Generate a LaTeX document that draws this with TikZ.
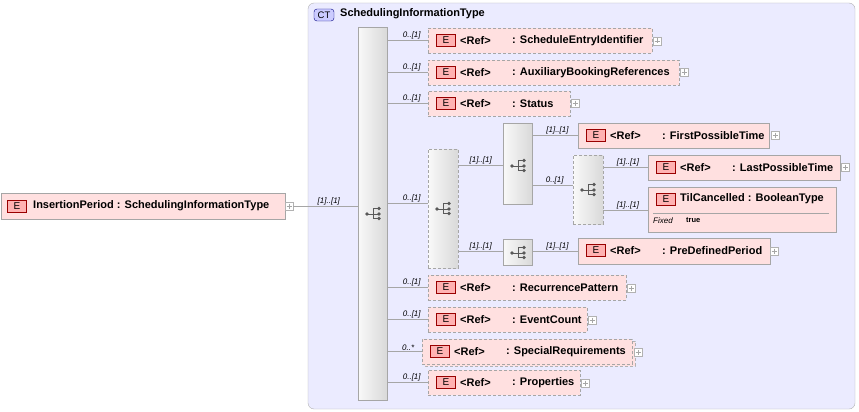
\documentclass[tikz,border=0pt]{standalone}
\usepackage{fontspec}
\setmainfont{Liberation Sans}
\usetikzlibrary{calc}
\begin{document}
\begin{tikzpicture}[x=1pt,y=-1pt,
  font=\fontsize{11}{12}\selectfont\bfseries,
  elbox/.style={draw=gray!70,fill=red!12,anchor=north west,inner sep=0pt},
  opt/.style={dashed,dash pattern=on 3pt off 2pt},
  ebadge/.style={draw=red!60!black,fill=red!30,minimum width=19pt,minimum height=12pt,inner sep=0pt,font=\fontsize{10}{10}\selectfont},
  comp/.style={draw=gray!70,left color=gray!5,right color=gray!30,anchor=north west,inner sep=0pt},
  conn/.style={draw=gray!70,line width=0.6pt},
  card/.style={font=\fontsize{8}{9}\selectfont\itshape,anchor=south,inner sep=1pt},
  plusbox/.style={draw=gray!60,fill=white,minimum size=8pt,inner sep=0pt}]
\useasboundingbox (0,0) rectangle (859,412);
\newcommand\plusat[2]{\node[plusbox] (#1) at (#2) {}; \draw[gray!70,line width=0.4pt] ($(#1)+(-2.5,0)$)--($(#1)+(2.5,0)$) ($(#1)+(0,-2.5)$)--($(#1)+(0,2.5)$);}
\newcommand\seqicon[2]{%
  \fill[black!65] ($(#2)+(-7,1)$) circle (1.8pt);
  \draw[black!65,line width=0.8pt] ($(#2)+(-7,1)$)--($(#2)+(-1,1)$) ($(#2)+(-1,-4.5)$)--($(#2)+(-1,5.5)$)
     ($(#2)+(-1,-4.5)$)--($(#2)+(4,-4.5)$) ($(#2)+(-1,1)$)--($(#2)+(4,1)$) ($(#2)+(-1,5.5)$)--($(#2)+(4,5.5)$);
  \foreach \yy in {-4.5,1,5.5}{\fill[black!65] ($(#2)+(5,\yy)$) circle (1.8pt);}
  \coordinate (#1) at (#2);}
% container
\draw[gray!60,fill=blue!8,rounded corners=6pt] (308,3) rectangle (855,409);
\node[draw=blue!50!black,fill=blue!20,rounded corners=3pt,inner sep=1pt,minimum width=20pt,minimum height=12pt,font=\fontsize{9.5}{10}\selectfont] (ct) at (324,15) {CT};
\node[anchor=west,inner sep=0pt] (ctname) at (340,14) {SchedulingInformationType};
% root
\node[elbox,minimum width=284pt,minimum height=26pt] (root) at (1,193) {};
\node[ebadge] (rootE) at (17,206) {E};
\node[anchor=west,inner sep=0pt] (rootT) at (33,206) {InsertionPeriod : SchedulingInformationType};
\plusat{rootP}{289,206}
% main sequence
\node[comp,minimum width=29pt,minimum height=373pt] (mseq) at (358,27) {};
\seqicon{mseqI}{374,213}
\draw[conn] (rootP.east) -- (mseq.west |- rootP) node[card,pos=0.55] {[1]..[1]};
% element macro
\newcommand\elem[8]{%
  \node[elbox,#6,minimum width=#4pt,minimum height=#5pt] (#1) at (#2,#3) {};
  \node[ebadge] (#1E) at ($(#1.north west)+(18,12.5)$) {E};
  \node[anchor=west,inner sep=0pt] (#1R) at ($(#1.north west)+(32,12.5)$) {#7};
  \node[anchor=west,inner sep=0pt] (#1N) at ($(#1.north west)+(84,12.5)$) {#8};}
\elem{e1}{428}{28}{224}{25}{opt}{<Ref>}{: ScheduleEntryIdentifier}\plusat{e1P}{657,41}
\elem{e2}{428}{60}{251}{25}{opt}{<Ref>}{: AuxiliaryBookingReferences}\plusat{e2P}{684,72}
\elem{e3}{428}{91}{142}{25}{opt}{<Ref>}{: Status}\plusat{e3P}{575,103}
\elem{e5}{428}{275}{198}{25}{opt}{<Ref>}{: RecurrencePattern}\plusat{e5P}{631,288}
\elem{e6}{428}{307}{159}{25}{opt}{<Ref>}{: EventCount}\plusat{e6P}{592,320}
\draw[gray!60,opt,fill=red!12] (425,341) rectangle (635,366);
\elem{e7}{422}{339}{210}{25}{opt}{<Ref>}{: SpecialRequirements}\plusat{e7P}{638,352}
\elem{e8}{428}{370}{152}{25}{opt}{<Ref>}{: Properties}\plusat{e8P}{585,383}
\foreach \n/\c in {e1/0..[1],e2/0..[1],e3/0..[1],e5/0..[1],e6/0..[1],e7/0..*,e8/0..[1]}{
  \draw[conn] (mseq.east |- \n.west) -- (\n.west) node[card,pos=0.6] {\c};}
% choice 1
\node[comp,opt,minimum width=30pt,minimum height=119pt] (ch1) at (428,149) {};
\seqicon{ch1I}{444,208}
\draw[conn] (mseq.east |- 0,203) -- (ch1.west |- 0,203) node[card,pos=0.6] {0..[1]};
% seq1
\node[comp,minimum width=29pt,minimum height=81pt] (s1) at (503,123) {};
\seqicon{s1I}{519,165}
\draw[conn] (ch1.east |- 0,165) -- (s1.west |- 0,165) node[card,pos=0.5] {[1]..[1]};
% seq2
\node[comp,minimum width=29pt,minimum height=26pt] (s2) at (503,239) {};
\seqicon{s2I}{519,252}
\draw[conn] (ch1.east |- 0,251) -- (s2.west |- 0,251) node[card,pos=0.5] {[1]..[1]};
% FirstPossibleTime
\elem{f1}{578}{123}{191}{25}{}{<Ref>}{: FirstPossibleTime}\plusat{f1P}{775,135}
\draw[conn] (s1.east |- f1.west) -- (f1.west) node[card,pos=0.55] {[1]..[1]};
% choice 2
\node[comp,opt,minimum width=30pt,minimum height=69pt] (ch2) at (573,155) {};
\seqicon{ch2I}{589,189}
\draw[conn] (s1.east |- 0,185) -- (ch2.west |- 0,185) node[card,pos=0.55] {0..[1]};
\elem{l1}{648}{155}{192}{25}{}{<Ref>}{: LastPossibleTime}\plusat{l1P}{845,167}
\draw[conn] (ch2.east |- l1.west) -- (l1.west) node[card,pos=0.55] {[1]..[1]};
% TilCancelled
\node[elbox,minimum width=188pt,minimum height=45pt] (tc) at (648,187) {};
\node[ebadge] (tcE) at (666,199) {E};
\node[anchor=west,inner sep=0pt] (tcN) at (680,199) {TilCancelled : BooleanType};
\draw[gray!70] (653,213) -- (829,213);
\node[anchor=west,inner sep=0pt,font=\fontsize{8}{9}\selectfont\itshape] (tcF) at (653,221) {Fixed};
\node[anchor=west,inner sep=0pt,font=\fontsize{7.5}{8}\selectfont\bfseries] (tcV) at (686,220) {true};
\draw[conn] (ch2.east |- 0,210) -- (tc.west |- 0,210) node[card,pos=0.55] {[1]..[1]};
% PreDefinedPeriod
\elem{p1}{578}{238}{192}{26}{}{<Ref>}{: PreDefinedPeriod}\plusat{p1P}{774,251}
\draw[conn] (s2.east |- p1.west) -- (p1.west) node[card,pos=0.55] {[1]..[1]};
\end{tikzpicture}
\end{document}
